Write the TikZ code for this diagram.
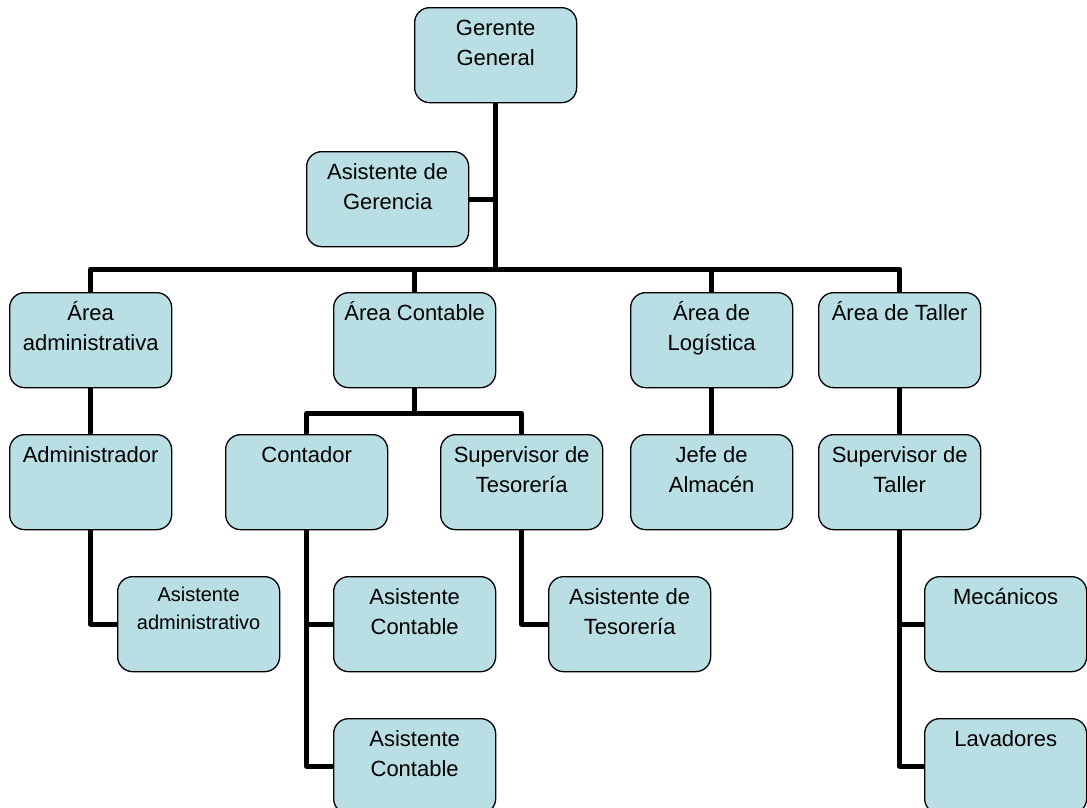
\documentclass[tikz,border=0pt]{standalone}
\usepackage{fontspec}
\setmainfont{Liberation Sans}
\newcommand{\cargo}[1]{\parbox[t][95pt][t]{162pt}{\centering\fontsize{22pt}{30pt}\selectfont\rule{0pt}{28pt}#1}}
\newcommand{\cargochico}[1]{\parbox[t][95pt][t]{162pt}{\centering\fontsize{20pt}{28pt}\selectfont\rule{0pt}{25pt}#1}}
\begin{document}
\begin{tikzpicture}[x=1pt,y=-1pt,
  puesto/.style={draw=black,fill=cajafondo,line width=1.3pt,rounded corners=15pt,inner sep=0pt,anchor=north west},
  enlace/.style={line width=5pt,line join=round}]
  \definecolor{cajafondo}{RGB}{185,223,228}
  \useasboundingbox (0,0) rectangle (1087,807);
  \clip (0,0) rectangle (1087,807);
  % gerencia
  \node[puesto] (gg) at (414,7) {\cargo{Gerente\\General}};
  \node[puesto] (ag) at (306,151) {\cargo{Asistente de\\Gerencia}};
  % areas
  \node[puesto] (aa) at (9,292) {\cargo{Área\\administrativa}};
  \node[puesto] (ac) at (333,292) {\cargo{Área Contable}};
  \node[puesto] (al) at (630,292) {\cargo{Área de\\Logística}};
  \node[puesto] (at) at (818,292) {\cargo{Área de Taller}};
  % jefaturas
  \node[puesto] (ad) at (9,434) {\cargo{Administrador}};
  \node[puesto] (co) at (225,434) {\cargo{Contador}};
  \node[puesto] (st) at (440,434) {\cargo{Supervisor de\\Tesorería}};
  \node[puesto] (ja) at (630,434) {\cargo{Jefe de\\Almacén}};
  \node[puesto] (stl) at (818,434) {\cargo{Supervisor de\\Taller}};
  % asistentes y operarios
  \node[puesto] (aad) at (117,576) {\cargochico{Asistente\\administrativo}};
  \node[puesto] (acb) at (333,576) {\cargo{Asistente\\Contable}};
  \node[puesto] (ats) at (548,576) {\cargo{Asistente de\\Tesorería}};
  \node[puesto] (mec) at (924,576) {\cargo{Mecánicos}};
  \node[puesto] (acc) at (333,718) {\cargo{Asistente\\Contable}};
  \node[puesto] (lav) at (924,718) {\cargo{Lavadores}};
  % enlaces
  \coordinate (bus) at (gg.south |- 0,269);
  \draw[enlace] (gg.south) -- (bus);
  \draw[enlace] (ag.east) -- (ag.east -| gg.south);
  \draw[enlace] (aa.north) |- (bus) -| (at.north);
  \draw[enlace] (bus -| ac.north) -- (ac.north);
  \draw[enlace] (bus -| al.north) -- (al.north);
  \draw[enlace] (aa.south) -- (ad.north);
  \draw[enlace] (ad.south) |- (aad.west);
  \coordinate (ramacont) at ([yshift=-25pt]ac.south);
  \draw[enlace] (ac.south) -- (ramacont);
  \draw[enlace] (co.north) |- (ramacont) -| (st.north);
  \draw[enlace] (co.south) |- (acb.west);
  \draw[enlace] (co.south) |- (acc.west);
  \draw[enlace] (st.south) |- (ats.west);
  \draw[enlace] (al.south) -- (ja.north);
  \draw[enlace] (at.south) -- (stl.north);
  \draw[enlace] (stl.south) |- (mec.west);
  \draw[enlace] (stl.south) |- (lav.west);
\end{tikzpicture}
\end{document}
